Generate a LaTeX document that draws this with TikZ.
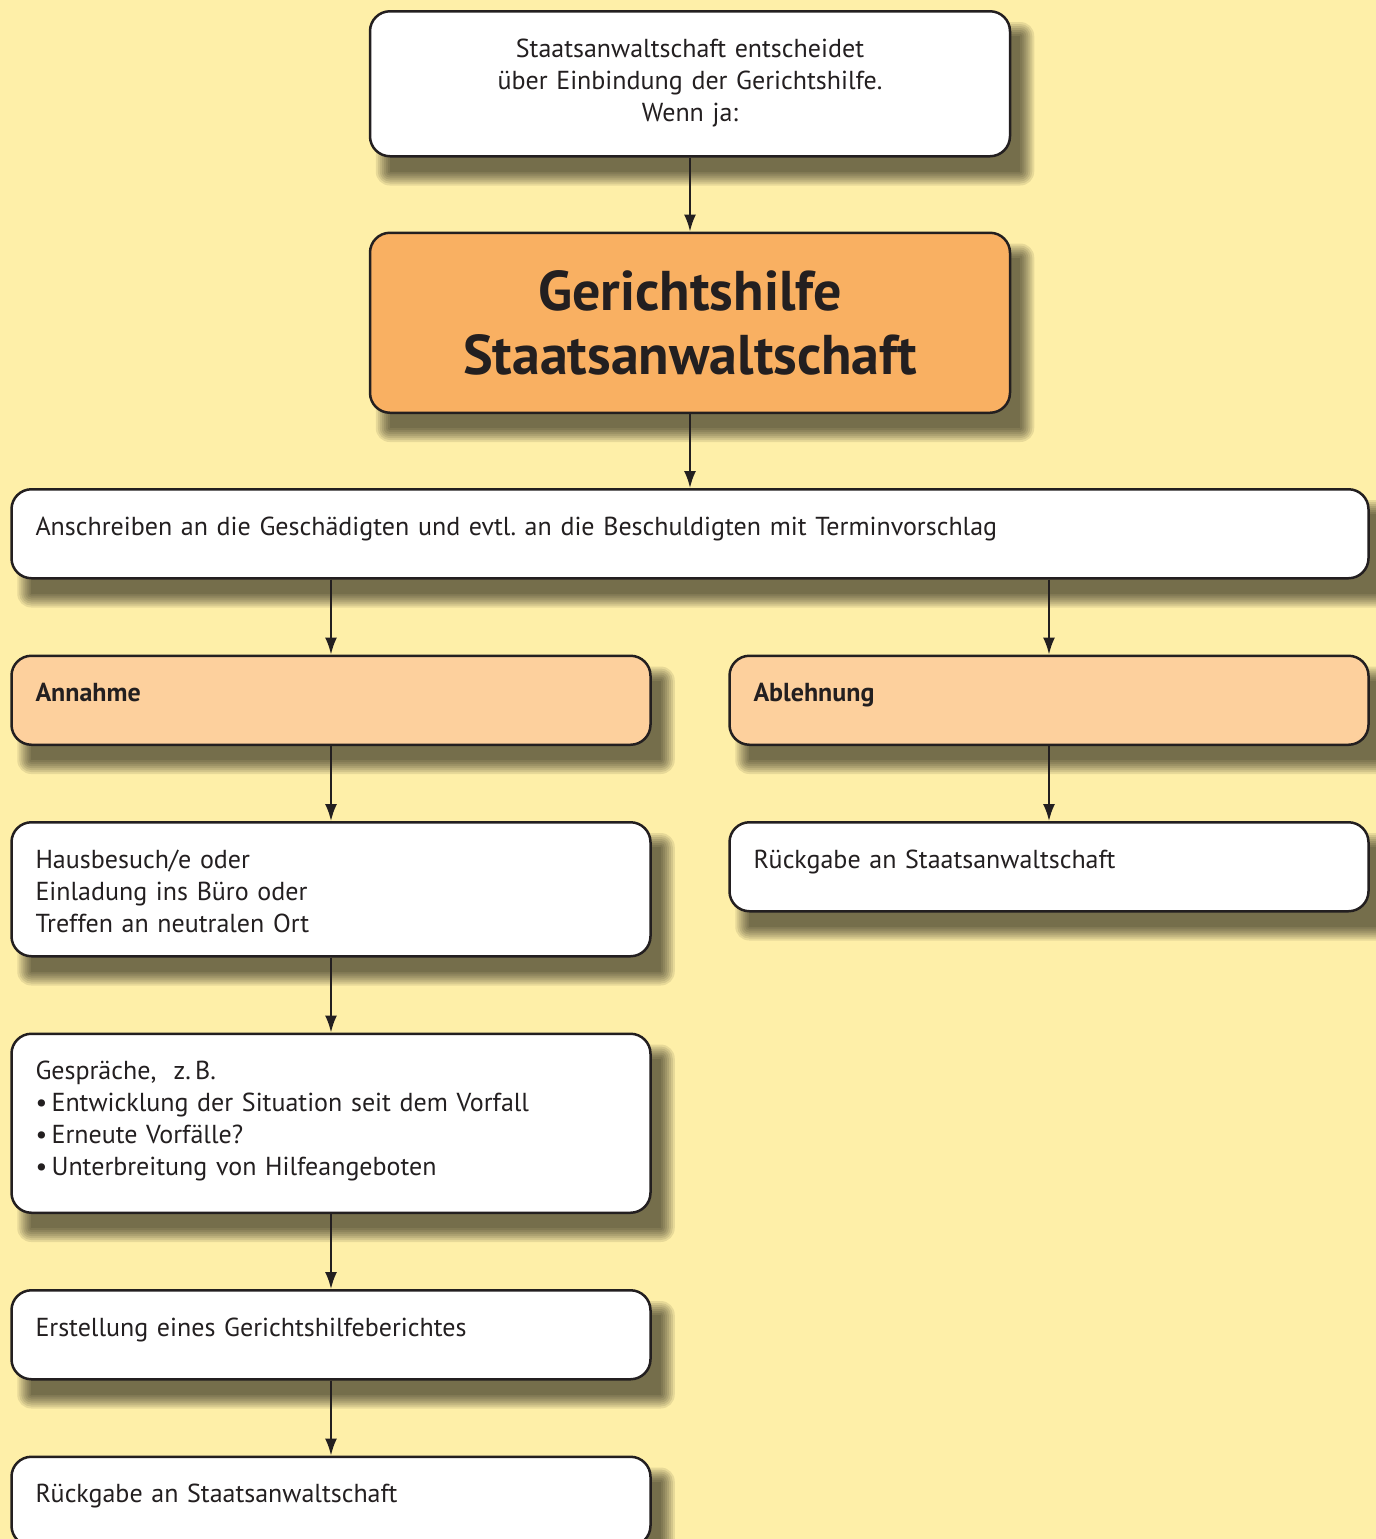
\documentclass[tikz,border=0pt]{standalone}
\usepackage{fontspec}
\setmainfont{PT Sans}
\usepackage{xcolor}
\usepackage{tikz}
\usetikzlibrary{arrows.meta}
\usetikzlibrary{backgrounds}
\usetikzlibrary{shapes,positioning}
\definecolor{gh-bg}{RGB}{254,239,168}
\definecolor{gh-orange}{RGB}{249,176,98}
\definecolor{gh-light}{RGB}{253,208,157}
\definecolor{gh-ink}{RGB}{35,31,32}
\frenchspacing
\tikzset{>={Latex[length=8.5pt,width=6pt]}}
\tikzset{flow-line/.style={line width=1pt, draw=gh-ink, fill=gh-ink}}
\tikzset{flow-shadow/.style={fill=black, fill opacity=0.09}}
\tikzset{flow-node/.style={draw=gh-ink, text=gh-ink, line width=1.25pt, rounded corners=10pt, fill=white, inner xsep=12pt, inner ysep=12pt, text height=11pt, text depth=9.5pt, align=left, text width=295.5pt, font=\fontsize{13}{16}\selectfont}}
\tikzset{flow-wide/.style={flow-node, text width=654.5pt}}
\tikzset{flow-choice/.style={flow-node, fill=gh-light, font=\fontsize{13}{16}\selectfont\bfseries}}
\tikzset{flow-main/.style={flow-node, fill=gh-orange, align=center, text width=296pt, text height=, text depth=, minimum height=90pt, font=\fontsize{28}{32}\selectfont\bfseries}}

\begin{document}
\begin{tikzpicture}
            \useasboundingbox (0,0) rectangle (688pt,-769.5pt);

            \node[flow-node, align=center, text width=296pt, text depth=37.5pt, anchor=north] (entscheid) at (345pt,-5pt)
                {Staatsanwaltschaft entscheidet\\über Einbindung der Gerichtshilfe.\\Wenn ja:};
            \node[flow-main, below=37pt of entscheid] (gerichtshilfe) {Gerichtshilfe\\Staatsanwaltschaft};
            \node[flow-wide, below=37pt of gerichtshilfe] (anschreiben)
                {Anschreiben an die Geschädigten und evtl. an die Beschuldigten mit Terminvorschlag};

            \node[flow-choice, below=37.5pt of anschreiben.south west, anchor=north west] (annahme) {Annahme};
            \node[flow-choice, below=37.5pt of anschreiben.south east, anchor=north east] (ablehnung) {Ablehnung};

            \node[flow-node, text depth=32pt, below=37.5pt of annahme] (besuch)
                {Hausbesuch/e oder\\Einladung ins Büro oder\\Treffen an neutralen Ort};
            \node[flow-node, below=37.5pt of ablehnung] (rueckgabe2) {Rückgabe an Staatsanwaltschaft};

            \node[flow-node, text depth=54.5pt, below=37.5pt of besuch] (gespraeche)
                {Gespräche,\ \ z.\,B.\\\textbullet\,Entwicklung der Situation seit dem Vorfall\\\textbullet\,Erneute Vorfälle?\\\textbullet\,Unterbreitung von Hilfeangeboten};
            \node[flow-node, below=37.5pt of gespraeche] (bericht) {Erstellung eines Gerichtshilfeberichtes};
            \node[flow-node, below=37.5pt of bericht] (rueckgabe1) {Rückgabe an Staatsanwaltschaft};

            % soft shadows behind the boxes
            \begin{scope}[on background layer]
                \fill[gh-bg] (0,0) rectangle (688pt,-769.5pt);
                \foreach \n in {entscheid, gerichtshilfe, anschreiben, annahme, ablehnung, besuch, rueckgabe2, gespraeche, bericht, rueckgabe1}
                    \foreach \e [evaluate=\e as \r using 7+\e] in {0,...,7}
                        \fill[flow-shadow, rounded corners=\r pt]
                            ([xshift={(10.5-\e)*1pt}, yshift={(\e-13)*1pt}]\n.north west) rectangle
                            ([xshift={(4.5+\e)*1pt}, yshift={(-7-\e)*1pt}]\n.south east);
            \end{scope}

            \draw[->, flow-line] (entscheid) -- (gerichtshilfe);
            \draw[->, flow-line] (gerichtshilfe) -- (anschreiben);

            \draw[->, flow-line] (anschreiben.south -| annahme.north) -- (annahme);
            \draw[->, flow-line] (anschreiben.south -| ablehnung.north) -- (ablehnung);

            \draw[->, flow-line] (annahme) -- (besuch);
            \draw[->, flow-line] (ablehnung) -- (rueckgabe2);

            \draw[->, flow-line] (besuch) -- (gespraeche);
            \draw[->, flow-line] (gespraeche) -- (bericht);
            \draw[->, flow-line] (bericht) -- (rueckgabe1);

        \end{tikzpicture}
\end{document}
